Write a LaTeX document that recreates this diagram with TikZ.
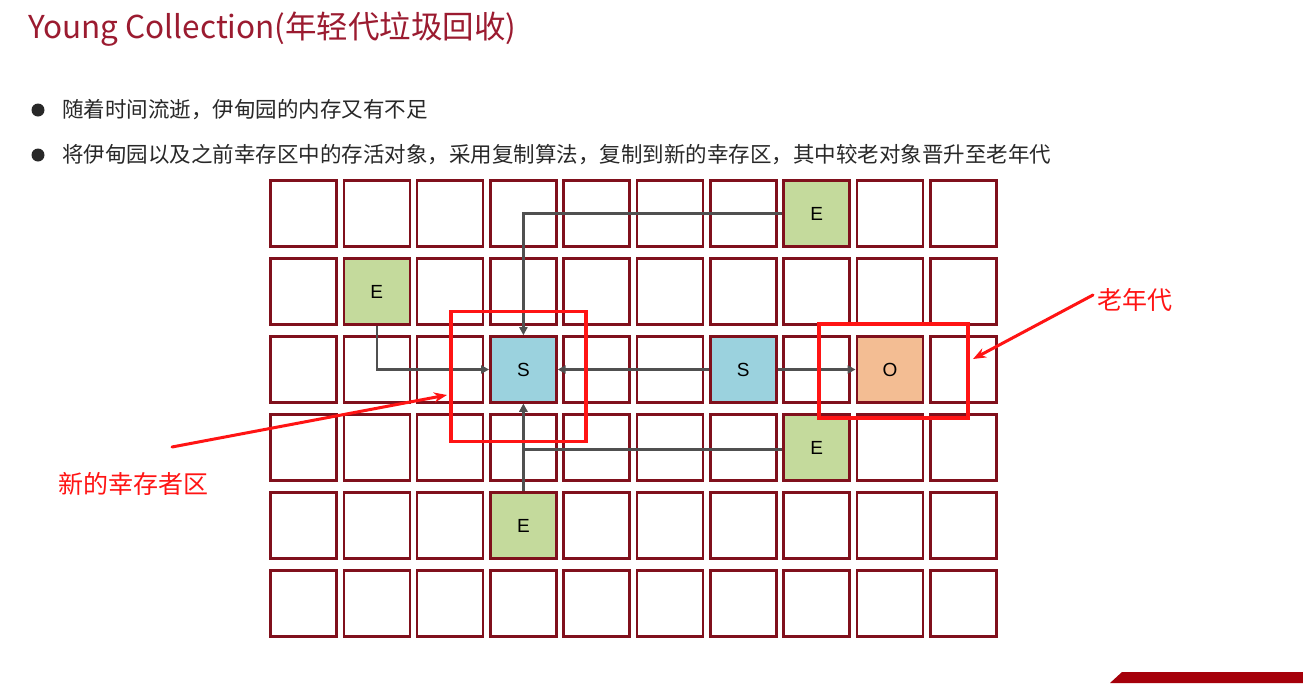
\documentclass[tikz,border=0pt]{standalone}
\usepackage{fontspec}
\setmainfont{Liberation Sans}
\newfontfamily\cjk{Noto Sans CJK SC}
\usetikzlibrary{arrows.meta}
\definecolor{titlered}{RGB}{155,27,48}
\definecolor{cellborder}{RGB}{128,16,28}
\definecolor{efill}{RGB}{196,218,156}
\definecolor{sfill}{RGB}{155,210,222}
\definecolor{ofill}{RGB}{243,189,147}
\definecolor{connc}{RGB}{80,80,80}
\definecolor{hired}{RGB}{255,20,20}
\definecolor{textc}{RGB}{40,40,40}
\definecolor{banner}{RGB}{165,0,10}
\tikzset{
  cell/.style={draw=cellborder, line width=2.6pt, fill=white, minimum width=66pt, minimum height=66pt, inner sep=0pt},
  ecell/.style={cell, fill=efill, font=\fontsize{19}{19}\selectfont},
  scell/.style={cell, fill=sfill, font=\fontsize{19}{19}\selectfont},
  ocell/.style={cell, fill=ofill, font=\fontsize{19}{19}\selectfont},
  conn/.style={draw=connc, line width=2.5pt, -{Triangle[length=8pt,width=8pt]}},
  redbox/.style={draw=hired, line width=3.5pt, inner sep=0pt},
  redarrow/.style={draw=hired, line width=3pt, line cap=round, -{Stealth[length=13pt,width=10pt]}},
  redlab/.style={text=hired, font=\cjk\fontsize{25}{25}\selectfont, inner sep=0pt},
  bullettext/.style={text=textc, font=\cjk\fontsize{21.5}{21.5}\selectfont, anchor=west, inner sep=0pt},
  bulletdot/.style={circle, fill=textc, minimum size=13pt, inner sep=0pt}
}
\begin{document}
\begin{tikzpicture}[x=1pt,y=-1pt]
\useasboundingbox (0,0) rectangle (1303,683);
\fill[white] (0,0) rectangle (1303,683);
% title
\node[anchor=base west, inner sep=0pt, text=titlered, font=\cjk\fontsize{31.5}{31.5}\selectfont] (title) at (28,38) {Young Collection(年轻代垃圾回收)};
% bullets
\node[bulletdot] (b1) at (38,110) {};
\node[bullettext] (t1) at (62,110) {随着时间流逝，伊甸园的内存又有不足};
\node[bulletdot] (b2) at (38,155) {};
\node[bullettext] (t2) at (62,155) {将伊甸园以及之前幸存区中的存活对象，采用复制算法，复制到新的幸存区，其中较老对象晋升至老年代};
% grid
\foreach \r in {0,...,5}{
  \foreach \c in {0,...,9}{
    \node[cell] (c\r\c) at ({303.5+73.3*\c},{213.5+78*\r}) {};
  }
}
% coloured cells
\node[ecell] (e1) at (c07) {E};
\node[ecell] (e2) at (c11) {E};
\node[scell] (s1) at (c23) {S};
\node[scell] (s2) at (c26) {S};
\node[ocell] (o1) at (c28) {O};
\node[ecell] (e3) at (c37) {E};
\node[ecell] (e4) at (c43) {E};
% connectors
\draw[conn] (e1.west) -| (s1.north);
\draw[conn] (e2.south) |- (s1.west);
\draw[conn] (s2.west) -- (s1.east);
\draw[conn] (s2.east) -- (o1.west);
\draw[conn] ([yshift=-2pt]e3.west) -| (s1.south);
\draw[conn] (e4.north) -- (s1.south);
% red highlight boxes
\node[redbox, minimum width=135pt, minimum height=130pt] (newbox) at (518.5,376.5) {};
\node[redbox, minimum width=149pt, minimum height=94pt] (oldbox) at (893.5,371) {};
% red labels and arrows
\node[redlab] (lnew) at (133,484) {新的幸存者区};
\node[redlab] (lold) at (1135,300) {老年代};
\coordinate (a1s) at (172,447);
\coordinate (a1e) at (447,395);
\coordinate (a2s) at (1093,295);
\coordinate (a2e) at (973,359);
\draw[redarrow] (a1s) -- (a1e);
\draw[redarrow] (a2s) -- (a2e);
% banner at bottom right
\fill[banner] (1110,683) -- (1122,672) -- (1303,672) -- (1303,683) -- cycle;
\end{tikzpicture}
\end{document}
